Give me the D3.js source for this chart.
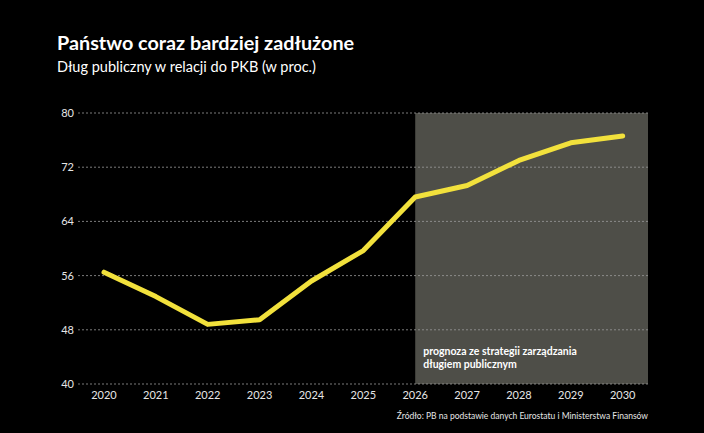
<!DOCTYPE html>
<html>
<head>
<meta charset="utf-8">
<script src="https://cdn.jsdelivr.net/npm/d3@7"></script>
<style>
  body { margin: 0; background: #000; }
  svg { display: block; font-family: Lato, "Open Sans", sans-serif; }
</style>
</head>
<body>
<script>
var width = 704, height = 433;

var years = [2020, 2021, 2022, 2023, 2024, 2025, 2026, 2027, 2028, 2029, 2030];
var debt = [56.5, 52.9, 48.8, 49.5, 55.2, 59.7, 67.6, 69.3, 73.0, 75.6, 76.6];
var yTicks = [40, 48, 56, 64, 72, 80];
var forecastFrom = 2026;

var margin = {left: 78, right: 56, top: 113, bottom: 49};

var svg = d3.select("body")
  .append("svg")
  .attr("width", width)
  .attr("height", height);

svg.append("rect")
  .attr("width", width)
  .attr("height", height)
  .attr("fill", "#000");

var x = d3.scalePoint()
  .domain(years)
  .range([104, 622.7]);

var y = d3.scaleLinear()
  .domain([40, 80])
  .range([height - margin.bottom, margin.top]);

var right = width - margin.right;

// forecast area
svg.append("rect")
  .attr("x", x(forecastFrom))
  .attr("y", y(80))
  .attr("width", right - x(forecastFrom))
  .attr("height", y(40) - y(80))
  .attr("fill", "#4e4e48");

// grid
svg.selectAll(".grid")
  .data(yTicks)
  .enter().append("line")
  .attr("class", "grid")
  .attr("x1", margin.left)
  .attr("x2", right)
  .attr("y1", function(d){ return y(d); })
  .attr("y2", function(d){ return y(d); })
  .attr("stroke", "#9a9a9a")
  .attr("stroke-width", 0.8)
  .attr("stroke-dasharray", "2,2");

svg.selectAll(".ylab")
  .data(yTicks)
  .enter().append("text")
  .attr("class", "ylab")
  .attr("x", 74)
  .attr("y", function(d){ return y(d) + 4; })
  .attr("text-anchor", "end")
  .attr("fill", "#e6e6e6")
  .attr("font-size", 11)
  .text(function(d){ return d; });

svg.selectAll(".xlab")
  .data(years)
  .enter().append("text")
  .attr("class", "xlab")
  .attr("x", function(d){ return x(d); })
  .attr("y", 399)
  .attr("text-anchor", "middle")
  .attr("fill", "#e6e6e6")
  .attr("font-size", 11)
  .text(function(d){ return d; });

var line = d3.line()
  .x(function(d, i){ return x(years[i]); })
  .y(function(d){ return y(d); });

svg.append("path")
  .datum(debt)
  .attr("d", line)
  .attr("fill", "none")
  .attr("stroke", "#f2e13c")
  .attr("stroke-width", 5)
  .attr("stroke-linecap", "round")
  .attr("stroke-linejoin", "round");

// annotation
var note = svg.append("text")
  .attr("x", x(forecastFrom) + 8)
  .attr("y", 355)
  .attr("fill", "#fff")
  .attr("font-size", 10.5)
  .attr("font-weight", "bold");
note.append("tspan").text("prognoza ze strategii zarządzania");
note.append("tspan").attr("x", x(forecastFrom) + 8).attr("dy", 13).text("długiem publicznym");

// titles
svg.append("text")
  .attr("x", 57)
  .attr("y", 50)
  .attr("fill", "#fff")
  .attr("font-size", 19.8)
  .attr("font-weight", "bold")
  .text("Państwo coraz bardziej zadłużone");

svg.append("text")
  .attr("x", 57)
  .attr("y", 72)
  .attr("fill", "#fff")
  .attr("font-size", 14.5)
  .text("Dług publiczny w relacji do PKB (w proc.)");

svg.append("text")
  .attr("x", 648)
  .attr("y", 419)
  .attr("text-anchor", "end")
  .attr("fill", "#e6e6e6")
  .attr("font-size", 8.5)
  .text("Źródło: PB na podstawie danych Eurostatu i Ministerstwa Finansów");
</script>
</body>
</html>
